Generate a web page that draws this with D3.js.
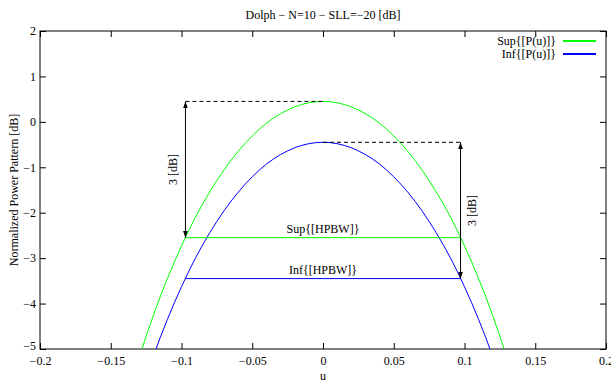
<!DOCTYPE html>
<html><head><meta charset="utf-8">
<script src="https://cdn.jsdelivr.net/npm/d3@7"></script>
<style>
body{margin:0;background:#fff;}
svg{display:block;font-family:"Liberation Serif","Times New Roman",serif;}
</style></head>
<body><svg id="c" width="611" height="383"></svg>
<script>
// ---- data ----
const uValues = [-0.14,-0.13,-0.12,-0.11,-0.10,-0.09,-0.08,-0.07,-0.06,-0.05,-0.04,-0.03,-0.02,-0.01,0,
                 0.01,0.02,0.03,0.04,0.05,0.06,0.07,0.08,0.09,0.10,0.11,0.12,0.13,0.14];
const supValues = [-6.24,-5.20,-4.27,-3.45,-2.73,-2.09,-1.54,-1.06,-0.65,-0.31,-0.03,0.18,0.33,0.42,0.45,
                   0.42,0.33,0.18,-0.03,-0.31,-0.65,-1.06,-1.54,-2.09,-2.73,-3.45,-4.27,-5.20,-6.24];
const infValues = [-7.14,-6.10,-5.17,-4.35,-3.63,-2.99,-2.44,-1.96,-1.55,-1.21,-0.93,-0.72,-0.57,-0.48,-0.45,
                   -0.48,-0.57,-0.72,-0.93,-1.21,-1.55,-1.96,-2.44,-2.99,-3.63,-4.35,-5.17,-6.10,-7.14];
const seriesNames = ["Sup{[P(u)]}","Inf{[P(u)]}"];
const hpbwU = [-0.0972, 0.0972];
const peakLevels = [0.45, -0.45];
const hpbwLevels = [-2.55, -3.45];
const hpbwNames = ["Sup{[HPBW]}","Inf{[HPBW]}"];
const xTicks = [-0.2,-0.15,-0.1,-0.05,0,0.05,0.1,0.15,0.2];
const yTicks = [-5,-4,-3,-2,-1,0,1,2];
const titleText = "Dolph \u2212 N=10 \u2212 SLL=\u221220 [dB]";
const xLabel = "u", yLabel = "Normalized Power Pattern [dB]";

// ---- layout ----
const L=40, R=606, T=31, B=349;
const colors = ["#00ff00","#0000ff"];
const svg = d3.select("#c");
const x = d3.scaleLinear().domain([-0.2,0.2]).range([L,R]);
const y = d3.scaleLinear().domain([-5,2]).range([B,T]);
const fmt = v => (v<0? "\u2212":"") + String(Math.abs(+v.toFixed(2)));

svg.append("defs").append("clipPath").attr("id","clip")
  .append("rect").attr("x",L).attr("y",T).attr("width",R-L).attr("height",B-T);
const m = svg.select("defs").append("marker").attr("id","ah").attr("viewBox","0 0 10 10")
  .attr("refX",10).attr("refY",5).attr("markerWidth",7).attr("markerHeight",9)
  .attr("orient","auto-start-reverse").attr("markerUnits","userSpaceOnUse");
m.append("path").attr("d","M0,1.5 L10,5 L0,8.5 Z").attr("fill","#000");

// axes
const fs = "12px";
const ax = d3.axisBottom(x).tickValues(xTicks).tickSize(-6).tickPadding(7).tickFormat(fmt);
const gx = svg.append("g").attr("transform",`translate(0,${B})`).call(ax);
const gxt = svg.append("g").attr("transform",`translate(0,${T})`).call(d3.axisTop(x).tickValues(xTicks).tickSize(-6).tickFormat(""));
const ay = d3.axisLeft(y).tickValues(yTicks).tickSize(-6).tickPadding(4).tickFormat(fmt);
const gy = svg.append("g").attr("transform",`translate(${L},0)`).call(ay);
const gyr = svg.append("g").attr("transform",`translate(${R},0)`).call(d3.axisRight(y).tickValues(yTicks).tickSize(-6).tickFormat(""));
[gx,gxt,gy,gyr].forEach(g=>{
  g.select(".domain").remove();
  g.selectAll("line").attr("stroke","#000");
  g.selectAll("text").attr("fill","#000").style("font-size",fs).style("font-family","Liberation Serif");
});
gy.selectAll(".tick").filter(d=>d===-5).select("text").attr("y",-3);
svg.append("rect").attr("x",L).attr("y",T).attr("width",R-L).attr("height",B-T)
  .attr("fill","none").attr("stroke","#000").attr("stroke-width",1);

// labels
svg.append("text").attr("x",(L+R)/2).attr("y",19).attr("text-anchor","middle").style("font-size",fs).text(titleText);
svg.append("text").attr("x",(L+R)/2).attr("y",380).attr("text-anchor","middle").style("font-size",fs).text(xLabel);
svg.append("text").attr("transform",`translate(18,${(T+B)/2}) rotate(-90)`).attr("text-anchor","middle").style("font-size",fs).text(yLabel);

// curves
const line = d3.line().x(d=>x(d[0])).y(d=>y(d[1])).curve(d3.curveCatmullRom);
const plot = svg.append("g").attr("clip-path","url(#clip)");
[supValues,infValues].forEach((vals,i)=>{
  plot.append("path").datum(uValues.map((u,j)=>[u,vals[j]]))
    .attr("d",line).attr("fill","none").attr("stroke",colors[i]).attr("stroke-width",1);
});

// HPBW lines
hpbwLevels.forEach((lv,i)=>{
  plot.append("line").attr("x1",x(hpbwU[0])).attr("x2",x(hpbwU[1])).attr("y1",y(lv)).attr("y2",y(lv))
    .attr("stroke",colors[i]).attr("stroke-width",1);
  svg.append("text").attr("x",x(0)).attr("y",y(lv)-5).attr("text-anchor","middle").style("font-size",fs).text(hpbwNames[i]);
});
// dashed peak lines
svg.append("line").attr("x1",x(hpbwU[0])).attr("x2",x(0)).attr("y1",y(peakLevels[0])).attr("y2",y(peakLevels[0]))
  .attr("stroke","#000").attr("stroke-dasharray","4,3");
svg.append("line").attr("x1",x(0)).attr("x2",x(hpbwU[1])).attr("y1",y(peakLevels[1])).attr("y2",y(peakLevels[1]))
  .attr("stroke","#000").attr("stroke-dasharray","4,3");
// double arrows
[[hpbwU[0],peakLevels[0],hpbwLevels[0]],[hpbwU[1],peakLevels[1],hpbwLevels[1]]].forEach(([u,a,b])=>{
  svg.append("line").attr("x1",x(u)).attr("x2",x(u)).attr("y1",y(a)).attr("y2",y(b))
    .attr("stroke","#000").attr("marker-start","url(#ah)").attr("marker-end","url(#ah)");
});
svg.append("text").attr("transform",`translate(${x(hpbwU[0])-8},${(y(peakLevels[0])+y(hpbwLevels[0]))/2}) rotate(-90)`)
  .attr("text-anchor","middle").style("font-size",fs).text("3 [dB]");
svg.append("text").attr("transform",`translate(${x(hpbwU[1])+15},${(y(peakLevels[1])+y(hpbwLevels[1]))/2}) rotate(-90)`)
  .attr("text-anchor","middle").style("font-size",fs).text("3 [dB]");

// legend
seriesNames.forEach((n,i)=>{
  const ly = 41 + i*13;
  svg.append("text").attr("x",556).attr("y",ly+4).attr("text-anchor","end").style("font-size",fs).text(n);
  svg.append("line").attr("x1",563).attr("x2",596).attr("y1",ly).attr("y2",ly)
    .attr("stroke",colors[i]).attr("stroke-width",2);
});
</script></body></html>
